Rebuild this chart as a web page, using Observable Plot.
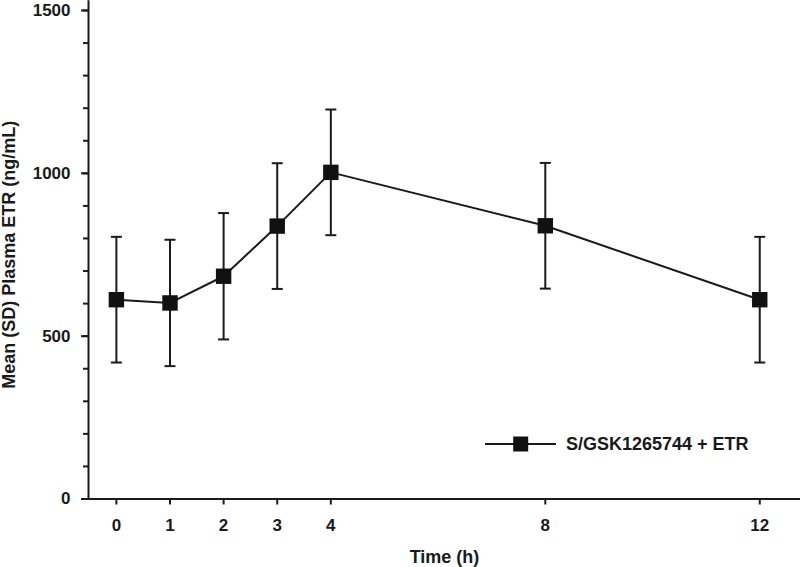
<!DOCTYPE html>
<html>
<head>
<meta charset="utf-8">
<script src="https://cdn.jsdelivr.net/npm/d3@7"></script>
<script src="https://cdn.jsdelivr.net/npm/@observablehq/plot@0.6"></script>
<style>
  html, body { margin: 0; padding: 0; background: #fff; }
  #wrap { position: relative; width: 800px; height: 567px; }
  #legend { position: absolute; left: 0; top: 0; pointer-events: none; }
</style>
</head>
<body>
<div id="wrap"></div>
<script>
// ---- data ----
const times = [0, 1, 2, 3, 4, 8, 12];
const means = [612, 602, 684, 838, 1003, 839, 612];
const sds   = [193, 194, 194, 193, 193, 193, 193];
const xTicks = [0, 1, 2, 3, 4, 8, 12];
const yMajor = [0, 500, 1000, 1500];
const yMinor = d3.range(0, 1501, 100);
const seriesName = "S/GSK1265744 + ETR";
const xLabel = "Time (h)";
const yLabel = "Mean (SD) Plasma ETR (ng/mL)";
const xDomain = [-0.52, 12.76];
const yDomain = [0, 1500];

const rows = times.map((t, i) => ({t, m: means[i], lo: means[i] - sds[i], hi: means[i] + sds[i]}));

const FONT = "'Liberation Sans', Arial, Helvetica, sans-serif";
const INK = "#1a1a1a";

const cap = {
  draw(context, size) {
    const w = Math.sqrt(size / Math.PI);
    context.moveTo(-w, 0);
    context.lineTo(w, 0);
  }
};

const chart = Plot.plot({
  width: 800,
  height: 567,
  marginLeft: 88,
  marginRight: 0,
  marginTop: 10,
  marginBottom: 68.5,
  style: {fontFamily: FONT, fontWeight: "bold", fontSize: "17px", color: INK, background: "#fff"},
  x: {domain: xDomain, label: null},
  y: {domain: yDomain, label: null},
  marks: [
    // axis lines
    Plot.ruleY([yDomain[0]], {stroke: INK, strokeWidth: 2}),
    Plot.ruleX([xDomain[0]], {y1: yDomain[0], y2: yDomain[1] * 1.02, stroke: INK, strokeWidth: 2, clip: false}),
    // y axis: minor + major ticks
    Plot.axisY({ticks: yMinor, tickSize: 5, text: null, strokeWidth: 2, label: null}),
    Plot.axisY({ticks: yMajor, tickSize: 7, text: null, strokeWidth: 2, label: null}),
    Plot.text(yMajor, {x: () => xDomain[0], y: d => d, dx: -18, textAnchor: "end", lineAnchor: "middle", text: d => String(d), fontSize: 17, fontWeight: "bold", fill: INK, clip: false}),
    // x axis
    Plot.axisX({ticks: xTicks, tickSize: 6, text: null, strokeWidth: 2, label: null}),
    Plot.text(xTicks, {x: d => d, frameAnchor: "bottom", dy: 27, textAnchor: "middle", lineAnchor: "middle", text: d => String(d), fontSize: 17, fontWeight: "bold", fill: INK}),
    // axis titles
    Plot.text([xLabel], {frameAnchor: "bottom", dy: 58, lineAnchor: "middle", textAnchor: "middle", fontSize: 18, fontWeight: "bold", fill: INK}),
    Plot.text([yLabel], {frameAnchor: "left", dx: -79, rotate: -90, lineAnchor: "middle", textAnchor: "middle", fontSize: 18, fontWeight: "bold", fill: INK}),
    // error bars
    Plot.ruleX(rows, {x: "t", y1: "lo", y2: "hi", stroke: INK, strokeWidth: 2}),
    Plot.dot(rows, {x: "t", y: "lo", symbol: cap, r: 5.5, fill: "none", stroke: INK, strokeWidth: 2}),
    Plot.dot(rows, {x: "t", y: "hi", symbol: cap, r: 5.5, fill: "none", stroke: INK, strokeWidth: 2}),
    // mean line + markers
    Plot.line(rows, {x: "t", y: "m", stroke: INK, strokeWidth: 2}),
    Plot.dot(rows, {x: "t", y: "m", symbol: "square", r: 8.7, fill: "#111", stroke: "none"})
  ]
});

const wrap = document.getElementById("wrap");
wrap.appendChild(chart);

// legend overlay
const ns = "http://www.w3.org/2000/svg";
const lg = document.createElementNS(ns, "svg");
lg.setAttribute("id", "legend");
lg.setAttribute("width", 800);
lg.setAttribute("height", 567);
const ln = document.createElementNS(ns, "line");
ln.setAttribute("x1", 485); ln.setAttribute("x2", 556);
ln.setAttribute("y1", 444); ln.setAttribute("y2", 444);
ln.setAttribute("stroke", INK); ln.setAttribute("stroke-width", 2);
lg.appendChild(ln);
const sq = document.createElementNS(ns, "rect");
sq.setAttribute("x", 513.2); sq.setAttribute("y", 436.5);
sq.setAttribute("width", 15); sq.setAttribute("height", 15);
sq.setAttribute("fill", "#111");
lg.appendChild(sq);
const tx = document.createElementNS(ns, "text");
tx.setAttribute("x", 566); tx.setAttribute("y", 450);
tx.setAttribute("font-family", FONT);
tx.setAttribute("font-weight", "bold");
tx.setAttribute("font-size", 18);
tx.setAttribute("fill", INK);
tx.textContent = seriesName;
lg.appendChild(tx);
wrap.appendChild(lg);
</script>
</body>
</html>
